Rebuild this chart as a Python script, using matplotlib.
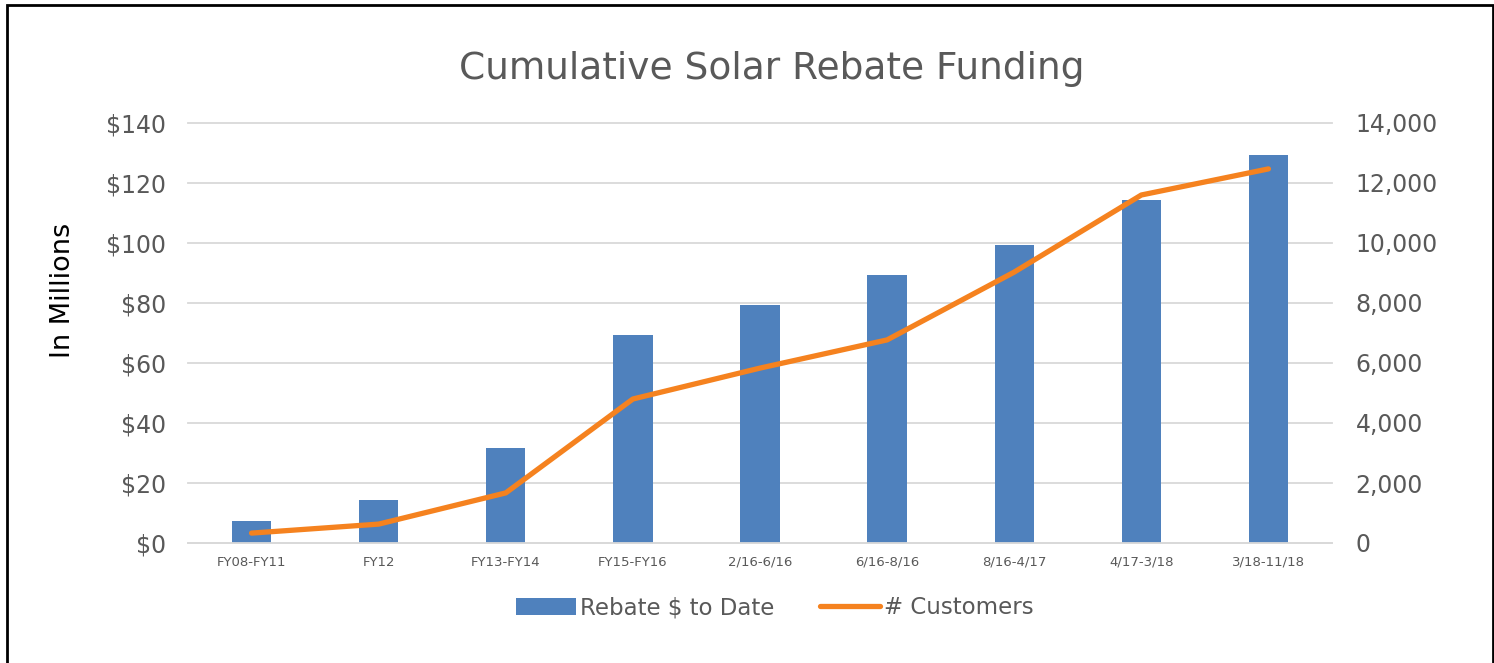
import matplotlib.pyplot as plt
import numpy as np

# datos
periodos = ["FY08-FY11", "FY12", "FY13-FY14", "FY15-FY16", "2/16-6/16",
            "6/16-8/16", "8/16-4/17", "4/17-3/18", "3/18-11/18"]
rebate_millones = [7.3, 14.3, 31.7, 69.3, 79.3, 89.3, 99.3, 114.3, 129.3]
clientes = [330, 630, 1670, 4800, 5830, 6770, 9030, 11600, 12470]

azul = "#4F81BD"
naranja = "#F5821F"
gris = "#595959"

fig = plt.figure(figsize=(14.94, 6.63), dpi=100)
ax = fig.add_axes([188 / 1494, 1 - 543 / 663, 1144 / 1494, 420 / 663])
ax2 = ax.twinx()

x = np.arange(len(periodos))
barras = ax.bar(x, rebate_millones, width=0.31, color=azul, label="Rebate $ to Date", zorder=2)
linea, = ax2.plot(x, clientes, color=naranja, lw=3.8, solid_capstyle="round",
                  label="# Customers", zorder=3)

ax.set_xlim(-0.5, len(periodos) - 0.5)
ax.set_ylim(0, 140)
ax2.set_ylim(0, 14000)
ax.set_yticks(range(0, 141, 20))
ax.set_yticklabels(["$%d" % v for v in range(0, 141, 20)])
ax2.set_yticks(range(0, 14001, 2000))
ax2.set_yticklabels(["{:,}".format(v) for v in range(0, 14001, 2000)])
ax.set_xticks(x)
ax.set_xticklabels(periodos, fontsize=9.5, color=gris)

ax.grid(axis="y", color="#D9D9D9", lw=1.3, zorder=0)
ax.set_axisbelow(True)
for g in ax.get_ygridlines():
    g.set_clip_on(False)
for a in (ax, ax2):
    for s in a.spines.values():
        s.set_visible(False)
    a.tick_params(length=0)
ax.spines["bottom"].set_visible(True)
ax.spines["bottom"].set_color("#D9D9D9")
ax.spines["bottom"].set_linewidth(1.3)
ax.tick_params(axis="y", labelsize=17, labelcolor=gris, pad=16)
ax.tick_params(axis="x", pad=9)
ax2.tick_params(axis="y", labelsize=17, labelcolor=gris, pad=17)

fig.text(63 / 1494, 1 - 290 / 663, "In Millions", fontsize=19.5, color="black",
         rotation=90, ha="center", va="center")
fig.text(772 / 1494, 1 - 69 / 663, "Cumulative Solar Rebate Funding", fontsize=27,
         color=gris, ha="center", va="center")

fig.legend([barras, linea], ["Rebate $ to Date", "# Customers"],
           loc="center", bbox_to_anchor=(775 / 1494, 1 - 608 / 663), ncol=2, frameon=False,
           fontsize=16.5, labelcolor=gris, handlelength=2.6, handleheight=0.8,
           columnspacing=2.0, handletextpad=0.2)

# marco del grafico
marco = plt.Rectangle((7 / 1494, -0.05), 1 - 8.5 / 1494, 1.05 - 5 / 663,
                      transform=fig.transFigure, fill=False, ec="black", lw=2)
fig.patches.append(marco)

fig.savefig("out.png", dpi=100)
